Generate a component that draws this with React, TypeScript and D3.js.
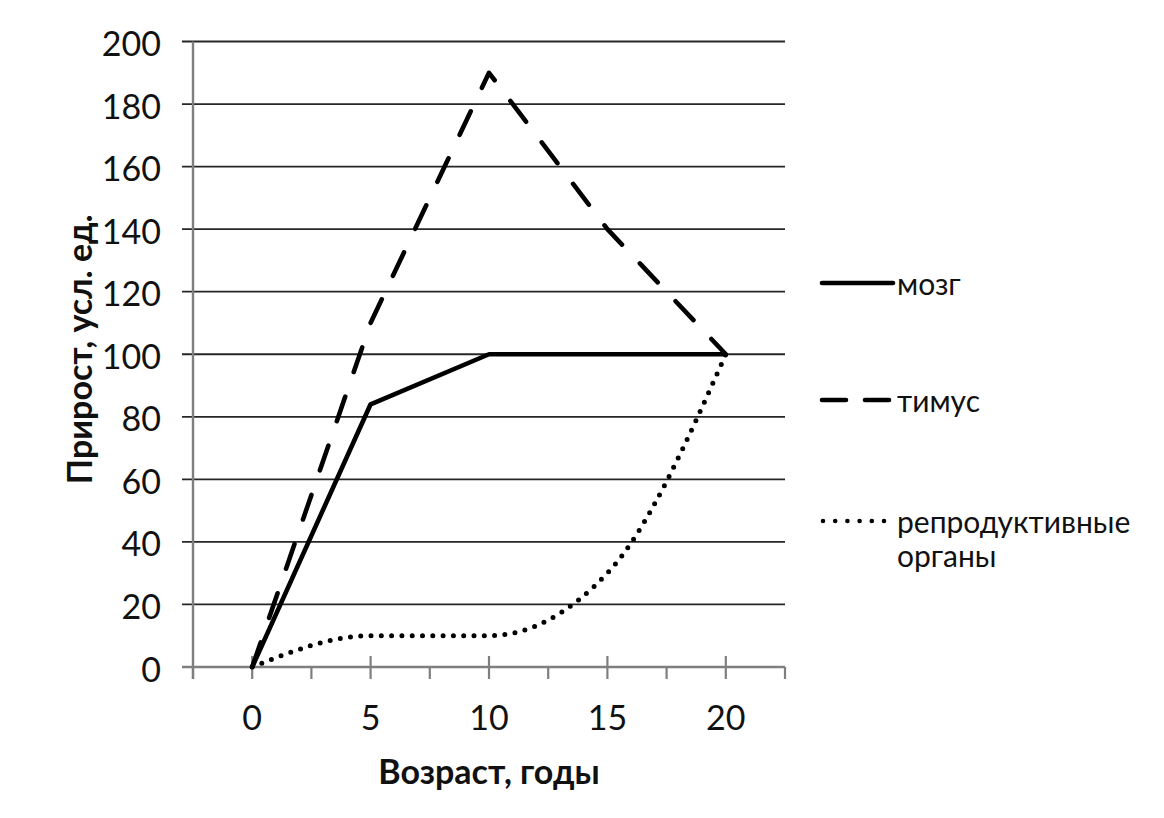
import React from "react";
import * as d3 from "d3";

const ages = [0, 5, 10, 15, 20];
const brain = [0, 84, 100, 100, 100];
const thymus = [0, 110, 190, 140, 100];
const reproductive = [0, 10, 10, 30, 100];
const yTicks = [0, 20, 40, 60, 80, 100, 120, 140, 160, 180, 200];
const xMajorTicks = [0, 5, 10, 15, 20];
const xMinorTicks = [-2.5, 2.5, 7.5, 12.5, 17.5, 22.5];
const seriesNames = ["мозг", "тимус", "репродуктивные органы"];
const xTitle = "Возраст, годы";
const yTitle = "Прирост, усл. ед.";

const W = 1164;
const H = 818;
const FONT = "Lato, 'Open Sans', 'DejaVu Sans', sans-serif";

export default function App() {
  const x = d3.scaleLinear().domain([-2.5, 22.5]).range([193, 785]);
  const y = d3.scaleLinear().domain([0, 200]).range([667, 41.5]);
  const left = 182;

  const lin = d3
    .line<number>()
    .x((_, i) => x(ages[i]))
    .y((d) => y(d))
    .curve(d3.curveLinear);
  const smooth = d3
    .line<number>()
    .x((_, i) => x(ages[i]))
    .y((d) => y(d))
    .curve(d3.curveMonotoneX);

  const legendX1 = 822;
  const legendX2 = 893;
  const legendY = [283, 400, 521];

  return (
    <svg
      width={W}
      height={H}
      style={{ position: "absolute", left: 0, top: 0, background: "#fff" }}
      fontFamily={FONT}
    >
      {/* gridlines */}
      {yTicks.filter((t) => t > 0).map((t) => (
        <line key={"g" + t} x1={left} x2={x(22.5)} y1={y(t)} y2={y(t)} stroke="#262626" strokeWidth={1.8} />
      ))}
      {/* y axis */}
      <line x1={x(-2.5)} x2={x(-2.5)} y1={y(200)} y2={y(0) + 12} stroke="#7f7f7f" strokeWidth={2.4} />
      {/* x axis */}
      <line x1={left} x2={x(22.5)} y1={y(0)} y2={y(0)} stroke="#7f7f7f" strokeWidth={2.4} />
      {xMajorTicks.map((t) => (
        <line key={"mj" + t} x1={x(t)} x2={x(t)} y1={y(0) - 11} y2={y(0) + 12} stroke="#7f7f7f" strokeWidth={2.2} />
      ))}
      {xMinorTicks.map((t) => (
        <line key={"mn" + t} x1={x(t)} x2={x(t)} y1={y(0)} y2={y(0) + 12} stroke="#7f7f7f" strokeWidth={2.2} />
      ))}
      {/* y tick labels */}
      {yTicks.map((t) => (
        <text key={"yl" + t} x={161} y={y(t) + 1} textAnchor="end" dominantBaseline="central" fontSize={34} fill="#111">
          {t}
        </text>
      ))}
      {/* x tick labels */}
      {xMajorTicks.map((t) => (
        <text key={"xl" + t} x={x(t)} y={716} textAnchor="middle" dominantBaseline="central" fontSize={34} fill="#111">
          {t}
        </text>
      ))}
      {/* axis titles */}
      <text x={x(10)} y={770} textAnchor="middle" dominantBaseline="central" fontSize={34} fontWeight="bold" fill="#111">
        {xTitle}
      </text>
      <text
        transform={`translate(78, ${y(100) - 5}) rotate(-90)`}
        textAnchor="middle"
        dominantBaseline="central"
        fontSize={34}
        fontWeight="bold"
        fill="#111"
      >
        {yTitle}
      </text>

      {/* series */}
      <path d={smooth(reproductive) || ""} fill="none" stroke="#000" strokeWidth={5} strokeLinecap="round" strokeDasharray="0 10.3" />
      <path d={lin(thymus) || ""} fill="none" stroke="#000" strokeWidth={4.6} strokeLinecap="round" strokeLinejoin="round" strokeDasharray="26 26" />
      <path d={lin(brain) || ""} fill="none" stroke="#000" strokeWidth={4.6} strokeLinejoin="round" />

      {/* legend */}
      <line x1={legendX1} x2={legendX2} y1={legendY[0]} y2={legendY[0]} stroke="#000" strokeWidth={4.6} strokeLinecap="round" />
      <line x1={legendX1} x2={legendX2} y1={legendY[1]} y2={legendY[1]} stroke="#000" strokeWidth={4.6} strokeLinecap="round" strokeDasharray="24 19" />
      <line x1={legendX1 + 1} x2={legendX2 - 6} y1={legendY[2]} y2={legendY[2]} stroke="#000" strokeWidth={4.6} strokeLinecap="round" strokeDasharray="0 12.2" />
      <text x={897} y={legendY[0]} dominantBaseline="central" fontSize={30} fill="#111">{seriesNames[0]}</text>
      <text x={897} y={legendY[1]} dominantBaseline="central" fontSize={30} fill="#111">{seriesNames[1]}</text>
      <text x={897} y={legendY[2]} dominantBaseline="central" fontSize={30} fill="#111">{seriesNames[2].split(" ")[0]}</text>
      <text x={897} y={legendY[2] + 34} dominantBaseline="central" fontSize={30} fill="#111">{seriesNames[2].split(" ")[1]}</text>
    </svg>
  );
}
